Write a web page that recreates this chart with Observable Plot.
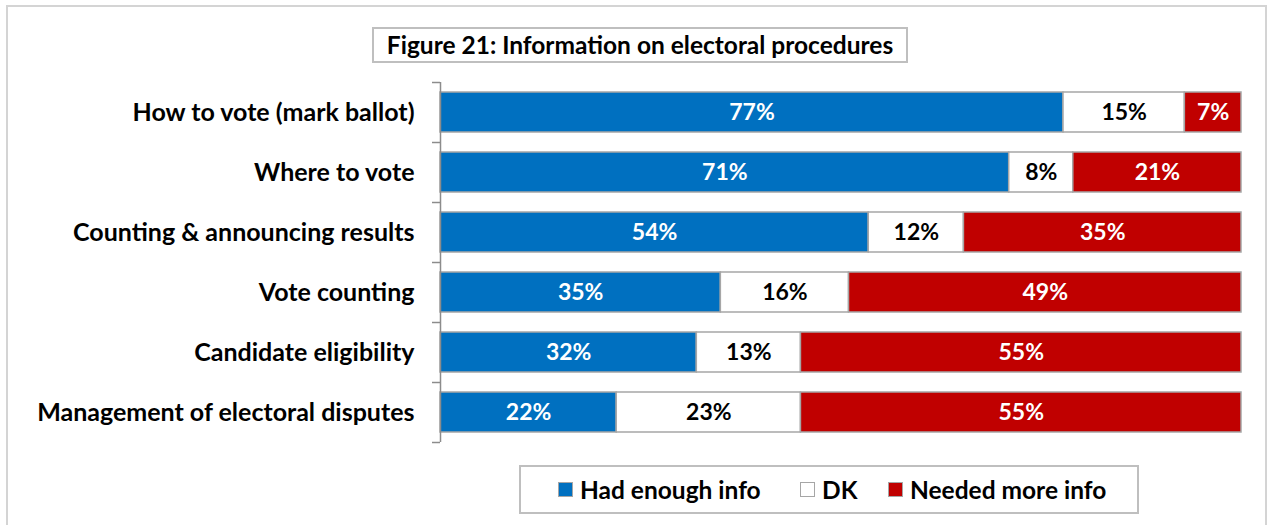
<!DOCTYPE html>
<html><head><meta charset="utf-8">
<script src="https://cdn.jsdelivr.net/npm/d3@7"></script>
<script src="https://cdn.jsdelivr.net/npm/@observablehq/plot@0.6"></script>
<style>
html,body{margin:0;padding:0;background:#fff;}
body{width:1277px;height:525px;position:relative;overflow:hidden;font-family:Lato,"Open Sans",sans-serif;}
#frame{position:absolute;left:6px;top:5px;width:1261px;height:540px;border:2px solid #d4d4d4;box-sizing:border-box;}
#title{position:absolute;left:372px;top:27px;width:536px;height:36px;border:2px solid #bfbfbf;box-sizing:border-box;font-weight:bold;font-size:24.5px;line-height:31px;text-align:center;color:#000;white-space:nowrap;}
#chart{position:absolute;left:0;top:0;}
#legend{position:absolute;left:519px;top:465px;width:620px;height:49px;border:2px solid #bfbfbf;box-sizing:border-box;font-weight:bold;font-size:24.5px;color:#000;}
.item{position:absolute;top:0;height:45px;display:flex;align-items:center;white-space:nowrap;}
.sw{width:13px;height:13px;border:1px solid #a6a6a6;margin-right:7px;flex:none;}
</style></head>
<body>
<div id="frame"></div>
<div id="chart"></div>
<div id="title">Figure 21: Information on electoral procedures</div>
<div id="legend"></div>
<script>
const categories = ["How to vote (mark ballot)","Where to vote","Counting & announcing results","Vote counting","Candidate eligibility","Management of electoral disputes"];
const series = ["Had enough info","DK","Needed more info"];
const hadEnough = [77,71,54,35,32,22];
const dk = [15,8,12,16,13,23];
const neededMore = [7,21,35,49,55,55];
const colors = ["#0070c0","#ffffff","#c00000"];
const textColors = ["#ffffff","#000000","#ffffff"];

const seriesValues = [hadEnough, dk, neededMore];
const data = [];
categories.forEach((c,i)=>{
  series.forEach((s,j)=>{ data.push({cat:c, series:s, value:seriesValues[j][i]}); });
});

const fontFam = "Lato, 'Open Sans', sans-serif";
const chart = Plot.plot({
  width:1277, height:525,
  marginLeft:440, marginRight:36, marginTop:82, marginBottom:83,
  style:{fontFamily:fontFam, background:"transparent"},
  x:{domain:[0,1], axis:null},
  y:{domain:categories, paddingInner:0.34, paddingOuter:0.17, label:null},
  color:{domain:series, range:colors},
  marks:[
    Plot.barX(data, Plot.stackX({x:"value", y:"cat", z:"series", order:series, offset:"normalize", fill:"series", stroke:"#a6a6a6", strokeWidth:1.5})),
    Plot.text(data, Plot.stackX({x:"value", y:"cat", z:"series", order:series, offset:"normalize", text:d=>d.value+"%", fill:d=>textColors[series.indexOf(d.series)], fontSize:23, fontWeight:"bold"})),
    Plot.ruleX([0], {stroke:"#8c8c8c", strokeWidth:1.5}),
    Plot.ruleY(categories, {y:d=>d, x1:-0.01, x2:0, dy:-30, stroke:"#8c8c8c", strokeWidth:1.5}),
    Plot.ruleY([categories[categories.length-1]], {y:d=>d, x1:-0.01, x2:0, dy:30, stroke:"#8c8c8c", strokeWidth:1.5}),
    Plot.axisY({tickSize:0, tickPadding:26, fontSize:25, fontWeight:"bold", fill:"#000"})
  ]
});
document.getElementById("chart").appendChild(chart);

const leg = document.getElementById("legend");
const lefts = [37, 279, 367];
series.forEach((s,j)=>{
  const it = document.createElement("div"); it.className="item"; it.style.left = lefts[j]+"px";
  const sw = document.createElement("div"); sw.className="sw"; sw.style.background=colors[j];
  const t = document.createElement("span"); t.textContent=s;
  it.appendChild(sw); it.appendChild(t); leg.appendChild(it);
});
</script>
</body></html>
